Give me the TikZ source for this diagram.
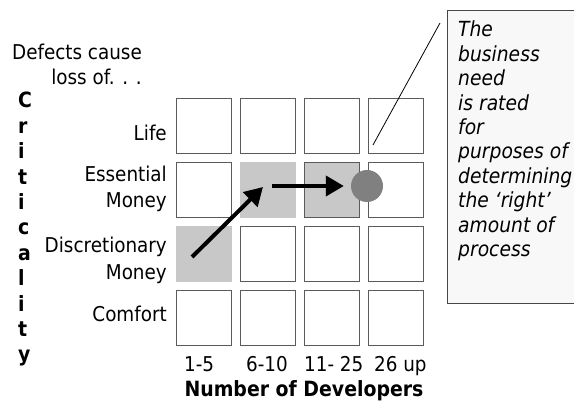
\documentclass[tikz,border=0pt]{standalone}
\usepackage{fontspec}
\setmainfont{DejaVu Sans Condensed}
\usetikzlibrary{arrows.meta}
\definecolor{cellline}{RGB}{90,90,90}
\definecolor{shade}{RGB}{200,200,200}
\definecolor{dot}{RGB}{128,128,128}
\definecolor{notefill}{RGB}{248,248,248}
\definecolor{noteline}{RGB}{70,70,70}
\begin{document}
\begin{tikzpicture}[x=1pt,y=-1pt,
  lbl/.style={inner sep=0pt, font=\fontsize{20.4}{22}\selectfont},
  boldlbl/.style={inner sep=0pt, font=\fontsize{21}{22}\selectfont\bfseries},
  notelbl/.style={inner sep=0pt, font=\fontsize{20.8}{22}\selectfont\itshape},
  plain/.style={draw=cellline, line width=1.2pt, minimum size=55pt, inner sep=0pt},
  light/.style={fill=shade, minimum size=56pt, inner sep=0pt},
  marked/.style={draw=cellline, fill=shade, line width=1.2pt, minimum size=55pt, inner sep=0pt},
  bigarrow/.style={line width=4pt, -{Triangle[length=18pt,width=20pt]}},
  leader/.style={line width=0.8pt},
]
\useasboundingbox (0,0) rectangle (574,403);

% callout box (runs off the right edge)
\node[draw=noteline, fill=notefill, line width=1pt, anchor=north west,
      minimum width=160pt, minimum height=293pt, inner sep=0pt] (note) at (447,10) {};
\foreach \i/\t in {0/The,1/business,2/need,3/is rated,4/for,5/purposes of,
                   6/determining,7/the ‘right’,8/amount of,9/process}
  \node[notelbl, anchor=base west] (n\i) at (458,37+24.4*\i) {\t};

% axis captions
\node[lbl, anchor=base east] (def1) at (142,60) {Defects cause};
\node[lbl, anchor=base east] (def2) at (142,85) {loss of. . .};
\foreach \i/\l in {0/C,1/r,2/i,3/t,4/i,5/c,6/a,7/l,8/i,9/t,10/y}
  \node[boldlbl, anchor=base west] (crit\i) at (18,108+25.4*\i) {\l};

% row labels
\node[lbl, anchor=base east] (life)  at (167,141) {Life};
\node[lbl, anchor=base east] (ess1)  at (167,182) {Essential};
\node[lbl, anchor=base east] (ess2)  at (167,208) {Money};
\node[lbl, anchor=base east] (disc1) at (167,253) {Discretionary};
\node[lbl, anchor=base east] (disc2) at (167,280) {Money};
\node[lbl, anchor=base east] (comf)  at (167,322) {Comfort};

% column labels
\node[lbl, anchor=base west] (k1) at (184,372) {1-5};
\node[lbl, anchor=base west] (k2) at (246,372) {6-10};
\node[lbl, anchor=base west] (k3) at (304,372) {11- 25};
\node[lbl, anchor=base west] (k4) at (374,372) {26 up};
\node[boldlbl, anchor=base] (devs) at (304,397) {Number of Developers};

% the grid
\foreach \r/\c/\sty in {1/1/plain,1/2/plain,1/3/plain,1/4/plain,
                        2/1/plain,2/2/light,2/3/marked,2/4/plain,
                        3/1/light,3/2/plain,3/3/plain,3/4/plain,
                        4/1/plain,4/2/plain,4/3/plain,4/4/plain}
  \node[\sty] (c\r\c) at (140+64*\c,62+64*\r) {};

% rated point
\node[circle, fill=dot, minimum size=32pt, inner sep=0pt] (need) at (367,186) {};

% leader from the note to the grid
\coordinate (leadA) at (440,23);
\coordinate (leadB) at (373,145);
\draw[leader] (leadA) -- (leadB);

% progression arrows
\coordinate (s1) at (192,257);
\coordinate (e1) at (263,187);
\coordinate (s2) at (272,186);
\draw[bigarrow] (s1) -- (e1);
\draw[bigarrow, shorten >=7pt] (s2) -- (need.west);
\end{tikzpicture}
\end{document}
